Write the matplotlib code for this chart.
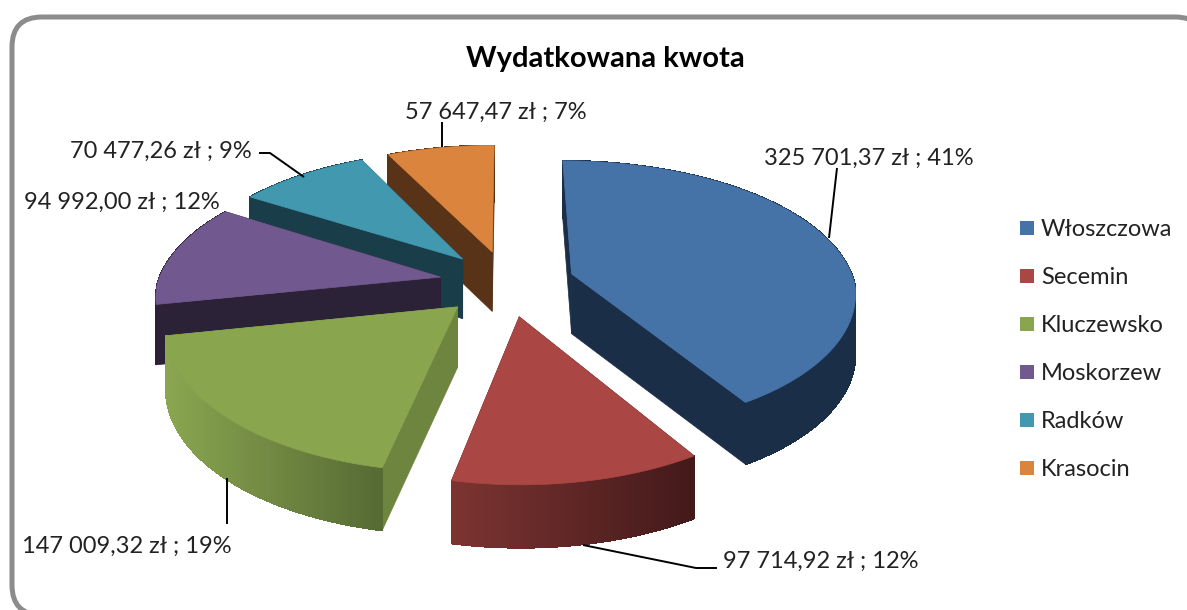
import numpy as np
import matplotlib
matplotlib.use('Agg')
import matplotlib.pyplot as plt
from matplotlib.patches import FancyBboxPatch, Polygon, Rectangle

plt.rcParams['font.family'] = ['Lato', 'DejaVu Sans']

TITLE = 'Wydatkowana kwota'
GMINY = ['Włoszczowa', 'Secemin', 'Kluczewsko', 'Moskorzew', 'Radków', 'Krasocin']
KWOTY = [325701.37, 97714.92, 147009.32, 94992.00, 70477.26, 57647.47]
ETYKIETY = ['325 701,37 zł ; 41%', '97 714,92 zł ; 12%', '147 009,32 zł ; 19%',
            '94 992,00 zł ; 12%', '70 477,26 zł ; 9%', '57 647,47 zł ; 7%']

TOP_COLORS = ['#4572a7', '#aa4643', '#89a54e', '#71588f', '#4198af', '#db843d']
FACE_COLORS = ['#1b2e47', '#451b1a', '#6e8540', '#2c2238', '#1a3d4a', '#583317']
RIM_LEFT = ['#1b2e47', '#7c3431', '#8aa650', '#2c2238', '#1a3d4a', '#583317']
RIM_RIGHT = ['#1b2e47', '#43191a', '#566a34', '#2c2238', '#1a3d4a', '#583317']

# layout of the tilted pie, in pixels
CX, CY = 507, 283
RX, RY = 283, 139
EXPLODE = 0.24
K_X_BACK, K_X_FRONT = 0.16, 0.12
K_Y_BACK, K_Y_FRONT = 0.20, 0.12
THICK = 60


def project(x, y, z=0.0):
    """Turn pie plane coordinates (y grows toward the viewer) into pixels."""
    x = np.asarray(x, dtype=float)
    y = np.asarray(y, dtype=float)
    k_x = np.where(y < 0, K_X_BACK, K_X_FRONT)
    k_y = np.where(y < 0, K_Y_BACK, K_Y_FRONT)
    px = CX + RX * x / (1 - k_x * y)
    py = CY + RY * y / (1 - k_y * y)
    py = py + z * THICK * (1 + 0.04 * y)
    return np.column_stack([px, py])


def lerp_color(c1, c2, f):
    a = np.array(matplotlib.colors.to_rgb(c1))
    b = np.array(matplotlib.colors.to_rgb(c2))
    return tuple(a + (b - a) * f)


def draw_slice(ax, i, start, end):
    mid = (start + end) / 2
    ox = EXPLODE * np.sin(mid)
    oy = -EXPLODE * np.cos(mid)
    t = np.linspace(start, end, 120)
    ex = ox + np.sin(t)
    ey = oy - np.cos(t)

    # flat cut faces
    for j in [0, -1]:
        xs = [ox, ex[j]]
        ys = [oy, ey[j]]
        top = project(xs, ys, 0)
        bot = project(xs, ys, 1)
        ax.add_patch(Polygon(np.vstack([top, bot[::-1]]), closed=True,
                             fc=FACE_COLORS[i], ec=FACE_COLORS[i], lw=0.5))

    # outer rim, shaded in steps
    top = project(ex, ey, 0)
    bot = project(ex, ey, 1)
    xmin, xmax = top[:, 0].min(), top[:, 0].max()
    for j in range(len(t) - 1):
        f = (top[j, 0] - xmin) / max(xmax - xmin, 1)
        col = lerp_color(RIM_LEFT[i], RIM_RIGHT[i], f)
        quad = [top[j], top[j + 1], bot[j + 1], bot[j]]
        ax.add_patch(Polygon(quad, closed=True, fc=col, ec=col, lw=0.6, antialiased=False))

    # top surface
    apex = project([ox], [oy], 0)
    ax.add_patch(Polygon(np.vstack([apex, top]), closed=True,
                         fc=TOP_COLORS[i], ec=TOP_COLORS[i], lw=0.5))


fig = plt.figure(figsize=(11.87, 6.10), dpi=100)
ax = fig.add_axes([0, 0, 1, 1])
ax.set_xlim(0, 1187)
ax.set_ylim(610, 0)
ax.axis('off')

# chart frame runs off the right and bottom of the picture
ax.add_patch(FancyBboxPatch((42, 47), 1133, 538, boxstyle='round,pad=30,rounding_size=30',
                            fc='white', ec='#8c8c8c', lw=3.6))

shares = np.array(KWOTY) / np.sum(KWOTY)
edges = np.concatenate([[0], np.cumsum(shares)]) * 2 * np.pi

# back slices first so the front ones cover them
for i in [5, 4, 3, 2, 0, 1]:
    draw_slice(ax, i, edges[i], edges[i + 1])

# leader lines
leaders = [
    ([829, 837], [238, 168]),
    ([583, 696, 717], [545, 568, 568]),
    ([227, 227], [478, 524]),
    ([259, 270, 304], [153, 153, 177]),
    ([442, 442], [122, 147]),
]
for xs, ys in leaders:
    ax.plot(xs, ys, color='black', lw=1.4, solid_capstyle='butt')

label_pos = [(764, 158), (723, 561), (22, 546), (24, 202), (70, 151), (405, 112)]
for txt, (x, y) in zip(ETYKIETY, label_pos):
    ax.text(x, y, txt, fontsize=17, color='#222222', ha='left', va='center')

ax.text(605, 59, TITLE, fontsize=21, fontweight='bold', color='black',
        ha='center', va='center')

# legend
for i, name in enumerate(GMINY):
    y = 228 + i * 48
    ax.add_patch(Rectangle((1020, y - 7), 14, 14, fc=TOP_COLORS[i], ec='none'))
    ax.text(1041, y + 1, name, fontsize=17, color='#222222', ha='left', va='center')

fig.savefig('out.png', dpi=100)
